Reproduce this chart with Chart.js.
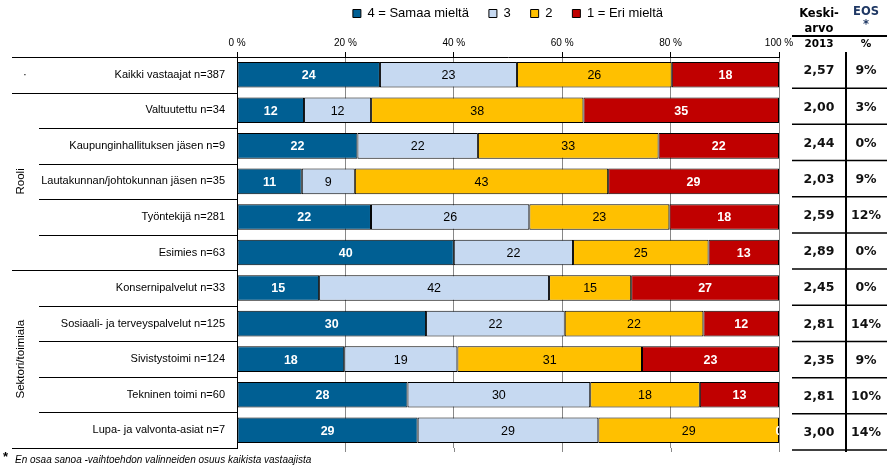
<!DOCTYPE html>
<html><head><meta charset="utf-8">
<script src="https://cdn.jsdelivr.net/npm/chart.js@4/dist/chart.umd.min.js"></script>
<style>html,body{margin:0;padding:0;background:#fff}#wrap{width:887px;height:471px;position:relative}</style>
</head><body><div id="wrap"><canvas id="c"></canvas></div>
<script>
// ---- data ----
const categories = ['Kaikki vastaajat n=387','Valtuutettu n=34','Kaupunginhallituksen jäsen n=9','Lautakunnan/johtokunnan jäsen n=35','Työntekijä n=281','Esimies n=63','Konsernipalvelut n=33','Sosiaali- ja terveyspalvelut n=125','Sivistystoimi n=124','Tekninen toimi n=60','Lupa- ja valvonta-asiat n=7'];
const seriesNames = ['4 = Samaa mieltä','3','2','1 = Eri mieltä'];
const s4 = [24,12,22,11,22,40,15,30,18,28,29];
const s3 = [23,12,22,9,26,22,42,22,19,30,29];
const s2 = [26,38,33,43,23,25,15,22,31,18,29];
const s1 = [18,35,22,29,18,13,27,12,23,13,0];
const keskiarvo = [2.57,2.00,2.44,2.03,2.59,2.89,2.45,2.81,2.35,2.81,3.00];
const eos = [9,3,0,9,12,0,0,14,9,10,14];
const groupLabels = ['·','Rooli','Sektori/toimiala'];
const groupStarts = [0,1,6];
const xTicks = [0,20,40,60,80,100];
const tableHeader = {col1:['Keski-','arvo','2013'], col2:['EOS','*','%']};
const footnote = 'En osaa sanoa -vaihtoehdon valinneiden osuus kaikista vastaajista';

const colors = ['#005F93','#C6D9F1','#FFC000','#C00000'];
const labelColors = ['#fff','#000','#000','#fff'];
const raw = [s4,s3,s2,s1];
const rowSum = categories.map((_,i)=>raw.reduce((a,s)=>a+s[i],0));

const datasets = raw.map((s,k)=>({
  label: seriesNames[k],
  data: s.map((v,i)=>v/rowSum[i]*100),
  backgroundColor: colors[k],
  borderColor: '#000',
  borderWidth: 1,
  borderSkipped: false,
  barPercentage: 0.72,
  categoryPercentage: 1
}));

const FONT = '"Liberation Sans", Arial, sans-serif';

const labelPlugin = {
  id: 'vals',
  afterDatasetsDraw(chart){
    const ctx = chart.ctx, a = chart.chartArea;
    ctx.save();
    ctx.beginPath(); ctx.rect(a.left, a.top-2, a.right-a.left, a.bottom-a.top+4); ctx.clip();
    ctx.textAlign = 'center'; ctx.textBaseline = 'middle';
    raw.forEach((s,k)=>{
      const meta = chart.getDatasetMeta(k);
      meta.data.forEach((el,i)=>{
        ctx.fillStyle = labelColors[k];
        ctx.font = (labelColors[k]==='#fff'?'bold ':'') + '12.5px ' + FONT;
        ctx.fillText(String(s[i]), (el.x+el.base)/2, el.y+1);
      });
    });
    ctx.restore();
  }
};

const decorPlugin = {
  id: 'decor',
  afterDraw(chart){
    const ctx = chart.ctx, a = chart.chartArea;
    const ys = chart.scales.y, xs = chart.scales.x;
    const n = categories.length;
    const c = categories.map((_,i)=>ys.getPixelForValue(i));
    const bnd = k => k===0 ? a.top : (k===n ? a.bottom : (c[k-1]+c[k])/2);
    ctx.save();
    ctx.strokeStyle = '#888'; ctx.lineWidth = 1;
    xTicks.forEach(v=>{ if(v===0) return; const x = Math.round(xs.getPixelForValue(v))+0.5;
      ctx.beginPath(); ctx.moveTo(x,a.bottom); ctx.lineTo(x,a.bottom+4); ctx.stroke(); });
    ctx.strokeStyle = '#000';
    for(let k=0;k<=n;k++){
      const y = Math.round(bnd(k))+0.5;
      const major = k===0 || k===n || groupStarts.includes(k);
      ctx.beginPath(); ctx.moveTo(major?12:39, y); ctx.lineTo(a.left, y); ctx.stroke();
    }
    ctx.fillStyle = '#000'; ctx.font = '11.5px ' + FONT;
    ctx.textAlign = 'center'; ctx.textBaseline = 'middle';
    groupLabels.forEach((g,gi)=>{
      const s = groupStarts[gi], e = gi+1<groupStarts.length ? groupStarts[gi+1] : n;
      const yc = (bnd(s)+bnd(e))/2;
      ctx.save(); ctx.translate(gi===0?25:21, yc); if(gi>0) ctx.rotate(-Math.PI/2);
      ctx.fillText(g,0,0); ctx.restore();
    });
    const tTop = 52, tBot = 450, rh = (tBot-tTop)/n;
    const c1 = 819, c2 = 866, tl = 792, tr = 887, vx = 846;
    ctx.font = 'bold 11.5px "DejaVu Sans", Verdana, sans-serif';
    ctx.fillStyle = '#000';
    ctx.fillText(tableHeader.col1[0], c1, 14);
    ctx.fillText(tableHeader.col1[1], c1, 29);
    ctx.font = 'bold 10.5px "DejaVu Sans", Verdana, sans-serif';
    ctx.fillText(tableHeader.col1[2], c1, 44);
    ctx.font = 'bold 11.5px "DejaVu Sans", Verdana, sans-serif';
    ctx.fillStyle = '#1F3864';
    ctx.fillText(tableHeader.col2[0], c2, 12);
    ctx.fillText(tableHeader.col2[1], c2, 25);
    ctx.fillStyle = '#000';
    ctx.font = 'bold 10.5px "DejaVu Sans", Verdana, sans-serif';
    ctx.fillText(tableHeader.col2[2], c2, 44);
    ctx.strokeStyle = '#000';
    ctx.lineWidth = 2;
    ctx.beginPath(); ctx.moveTo(tl,36); ctx.lineTo(tr,36); ctx.stroke();
    ctx.beginPath(); ctx.moveTo(vx,tTop); ctx.lineTo(vx,tBot+2); ctx.stroke();
    ctx.lineWidth = 1.5;
    for(let k=1;k<=n;k++){ const y = tTop + k*rh;
      ctx.beginPath(); ctx.moveTo(tl,y); ctx.lineTo(tr,y); ctx.stroke(); }
    ctx.font = 'bold 12.5px "DejaVu Sans", Verdana, sans-serif';
    ctx.fillStyle = '#111';
    for(let i=0;i<n;i++){ const y = tTop + (i+0.5)*rh + 1;
      ctx.fillText(keskiarvo[i].toFixed(2).replace('.',','), c1, y);
      ctx.fillText(eos[i]+'%', c2, y); }
    ctx.textAlign = 'left';
    ctx.font = 'bold 13px ' + FONT; ctx.fillStyle = '#000';
    ctx.fillText('*', 3, 457);
    ctx.font = 'italic 10px ' + FONT;
    ctx.fillText(footnote, 15, 460);
    ctx.restore();
  }
};

new Chart(document.getElementById('c'), {
  type: 'bar',
  data: { labels: categories, datasets },
  options: {
    indexAxis: 'y',
    responsive: true, maintainAspectRatio: false, animation: false, devicePixelRatio: 1,
    layout: { padding: { top: -13, left: 0, right: 108, bottom: 23 } },
    plugins: {
      legend: {
        position: 'top', fullSize: false, align: 'center',
        labels: { boxWidth: 8, boxHeight: 8, padding: 20, color: '#000', font: { size: 13, family: FONT } }
      },
      tooltip: { enabled: false }
    },
    scales: {
      x: {
        position: 'top', stacked: true, min: 0, max: 100,
        afterFit: s => { s.height = 27; },
        ticks: { stepSize: 20, padding: 3, color: '#000', font: { size: 10, family: FONT }, callback: v => v + ' %' },
        grid: { color: '#888', tickColor: '#000', tickLength: 5, lineWidth: 1 },
        border: { color: '#000', width: 1 }
      },
      y: {
        stacked: true,
        afterFit: s => { s.width = 237; },
        ticks: { padding: 12, color: '#000', font: { size: 11, family: FONT } },
        grid: { display: false, drawTicks: false },
        border: { color: '#000', width: 1 }
      }
    }
  },
  plugins: [labelPlugin, decorPlugin]
});
</script></body></html>
